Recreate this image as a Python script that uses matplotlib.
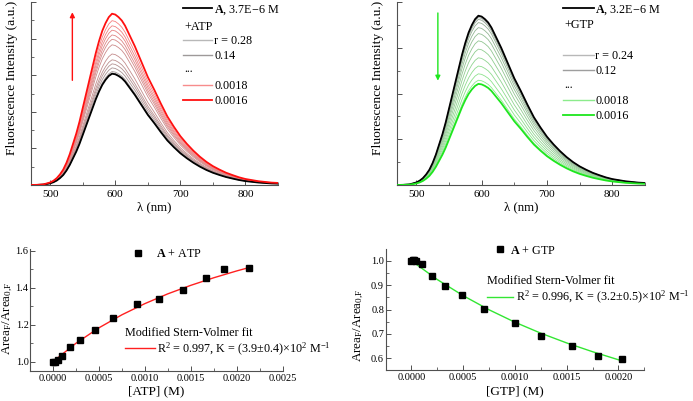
import numpy as np
import matplotlib
matplotlib.use("Agg")
import matplotlib.pyplot as plt
from matplotlib.lines import Line2D
from matplotlib.ticker import MultipleLocator, FormatStrFormatter

plt.rcParams['font.family'] = ['Liberation Serif', 'DejaVu Serif']
plt.rcParams['mathtext.fontset'] = 'custom'
plt.rcParams['mathtext.rm'] = 'Liberation Serif'
plt.rcParams['mathtext.it'] = 'Liberation Serif:italic'
plt.rcParams['mathtext.bf'] = 'Liberation Serif:bold'

# emission spectrum of A (normalised shape)
wl = [470, 480, 490, 500, 505, 510, 515, 520, 525, 530, 535, 540, 545, 550, 555,
      560, 565, 570, 575, 580, 585, 590, 595, 600, 605, 610, 615, 620, 625, 630,
      640, 650, 660, 670, 680, 690, 700, 710, 720, 730, 740, 750, 760, 770, 780,
      790, 800, 820, 840, 850]
shape = [0.0, 0.001, 0.004, 0.015, 0.025, 0.04, 0.062, 0.09, 0.13, 0.18, 0.24,
         0.30, 0.37, 0.45, 0.53, 0.61, 0.69, 0.77, 0.84, 0.90, 0.945, 0.98, 1.0,
         0.995, 0.98, 0.96, 0.93, 0.89, 0.85, 0.81, 0.72, 0.63, 0.555, 0.475, 0.40,
         0.34, 0.285, 0.24, 0.20, 0.165, 0.135, 0.11, 0.09, 0.072, 0.058, 0.045,
         0.035, 0.022, 0.014, 0.012]

# peak heights of each spectrum during titration (a.u.)
atp_peak = [3.04, 3.06, 3.10, 3.20, 3.31, 3.42, 3.58, 3.83, 3.98, 4.10, 4.23, 4.35, 4.49, 4.68]
gtp_peak = [3.70, 3.69, 3.66, 3.62, 3.55, 3.44, 3.31, 3.15, 2.97, 2.78, 2.60, 2.43, 2.29, 2.21]

# Stern-Volmer data
atp_conc = [0.0, 0.000018, 0.000051, 0.000098, 0.000188, 0.000297, 0.000453, 0.000652,
            0.000913, 0.001149, 0.00142, 0.001663, 0.001866, 0.002138]
atp_ratio = [1.0, 0.998, 1.009, 1.032, 1.077, 1.115, 1.171, 1.238, 1.312, 1.34,
             1.39, 1.45, 1.499, 1.508]
atp_fit_x = [0.0, 0.00025, 0.0005, 0.00075, 0.001, 0.00125, 0.0015, 0.00175, 0.002, 0.00214]
atp_fit_y = [1.0, 1.0995, 1.183, 1.2535, 1.314, 1.367, 1.413, 1.454, 1.491, 1.51]

gtp_conc = [0.0, 0.000016, 0.000026, 0.000049, 0.000105, 0.000203, 0.000327, 0.00049,
            0.000703, 0.000997, 0.001252, 0.001552, 0.001804, 0.002033]
gtp_ratio = [1.0, 1.005, 1.005, 0.999, 0.986, 0.939, 0.896, 0.858, 0.802, 0.743,
             0.693, 0.652, 0.611, 0.596]
gtp_fit_x = [0.0, 0.00025, 0.0005, 0.00075, 0.001, 0.00125, 0.0015, 0.00175, 0.002, 0.00203]
gtp_fit_y = [1.0, 0.923, 0.857, 0.799, 0.748, 0.703, 0.663, 0.627, 0.594, 0.59]

W, H = 693, 401
AX_COL = '#505050'
LFS = 8.7


def px_axes(l, r, t, b):
    return [l / W, (H - b) / H, (r - l) / W, (b - t) / H]


def style(ax, labelsize):
    for s in ['top', 'right']:
        ax.spines[s].set_visible(False)
    for s in ['left', 'bottom']:
        ax.spines[s].set_color(AX_COL)
        ax.spines[s].set_linewidth(0.8)
    ax.tick_params(which='both', direction='in', color=AX_COL, labelsize=labelsize)
    ax.tick_params(which='major', length=3.5, width=0.7)
    ax.tick_params(which='minor', length=2, width=0.6)


def blend(c0, c1, t):
    return tuple(a + (b - a) * t for a, b in zip(c0, c1))


def spectra(ax, peaks, end_col, mid_col, ymax, ytick):
    n = len(peaks)
    shp = np.array(shape)
    for i, pk in enumerate(peaks):
        if i == 0:
            c, lw, z = 'black', 1.3, 3
        elif i == n - 1:
            c, lw, z = end_col, 1.3, 3
        else:
            c, lw, z = blend((0.6, 0.6, 0.6), mid_col, (i - 1) / (n - 3)), 0.6, 2
        ax.plot(wl, shp * pk, color=c, lw=lw, zorder=z)
    ax.set_xlim(470, 850)
    ax.set_ylim(0, ymax)
    style(ax, 8)
    ax.xaxis.set_major_locator(MultipleLocator(100))
    ax.xaxis.set_minor_locator(MultipleLocator(50))
    ax.yaxis.set_major_locator(MultipleLocator(ytick))
    ax.yaxis.set_minor_locator(MultipleLocator(ytick / 2))
    ax.tick_params(axis='x', pad=3.5)
    ax.set_yticklabels([])
    ax.set_xlabel('λ (nm)', fontsize=9.2)
    ax.set_ylabel('Fluorescence Intensity (a.u.)', fontsize=9.7)
    ax.xaxis.set_label_coords(0.5, -0.087)


fig = plt.figure(figsize=(W / 100, H / 100), dpi=100)

# ---- top left: ATP spectra
ax1 = fig.add_axes(px_axes(30.7, 278, 2, 185))
spectra(ax1, atp_peak, '#ff1010', (0.97, 0.5, 0.5), 5.0, 1.0)
ax1.yaxis.set_label_coords(-0.053, 0.585)
ax1.annotate('', xy=(534, 4.72), xytext=(534, 2.86),
             arrowprops=dict(arrowstyle='-|>', color='#ff1010', lw=1.0,
                             mutation_scale=7, shrinkA=0, shrinkB=0))
h = [Line2D([], [], color='black', lw=1.3),
     Line2D([], [], color='none'),
     Line2D([], [], color=(0.72, 0.72, 0.72), lw=1.0),
     Line2D([], [], color=(0.62, 0.6, 0.6), lw=1.0),
     Line2D([], [], color='none'),
     Line2D([], [], color=(0.97, 0.55, 0.55), lw=1.0),
     Line2D([], [], color='#ff1010', lw=1.3)]
lab = [r'$\mathbf{A}$, 3.7E−6 M', ' ', 'r = 0.28', '0.14', ' ', '0.0018', '0.0016']
ax1.legend(h, lab, loc='upper left', bbox_to_anchor=(0.616, 0.993), frameon=False,
           fontsize=LFS, handlelength=2.4, handletextpad=0.17, labelspacing=0.25,
           borderpad=0, borderaxespad=0)
ax1.text(0.62, 0.866, '+ATP', transform=ax1.transAxes, fontsize=LFS, va='center')
ax1.text(0.62, 0.634, '...', transform=ax1.transAxes, fontsize=LFS, va='center')

# ---- top right: GTP spectra
ax2 = fig.add_axes(px_axes(396.7, 645, 2, 185))
spectra(ax2, gtp_peak, '#1ee61e', (0.55, 0.92, 0.55), 4.0, 1.0)
ax2.yaxis.set_label_coords(-0.05, 0.585)
ax2.annotate('', xy=(533, 2.28), xytext=(533, 3.76),
             arrowprops=dict(arrowstyle='-|>', color='#1ee61e', lw=1.0,
                             mutation_scale=7, shrinkA=0, shrinkB=0))
h = [Line2D([], [], color='black', lw=1.3),
     Line2D([], [], color='none'),
     Line2D([], [], color='none'),
     Line2D([], [], color=(0.72, 0.72, 0.72), lw=1.0),
     Line2D([], [], color=(0.62, 0.62, 0.62), lw=1.0),
     Line2D([], [], color='none'),
     Line2D([], [], color=(0.55, 0.92, 0.55), lw=1.0),
     Line2D([], [], color='#1ee61e', lw=1.3)]
lab = [r'$\mathbf{A}$, 3.2E−6 M', ' ', ' ', 'r = 0.24', '0.12', ' ', '0.0018', '0.0016']
ax2.legend(h, lab, loc='upper left', bbox_to_anchor=(0.671, 0.993), frameon=False,
           fontsize=LFS, handlelength=2.5, handletextpad=0.15, labelspacing=0.25,
           borderpad=0, borderaxespad=0)
ax2.text(0.675, 0.872, '+GTP', transform=ax2.transAxes, fontsize=LFS, va='center')
ax2.text(0.675, 0.545, '...', transform=ax2.transAxes, fontsize=LFS, va='center')


def sv_panel(ax, conc, ratio, fx, fy, col, name, xmax, ylim, ytick):
    pts, = ax.plot(conc, ratio, 's', color='black', ms=4, zorder=3)
    fit, = ax.plot(fx, fy, color=col, lw=1.0, zorder=2)
    ax.set_xlim(-0.00025, xmax)
    ax.set_ylim(*ylim)
    style(ax, 7.5)
    ax.xaxis.set_major_locator(MultipleLocator(0.0005))
    ax.xaxis.set_minor_locator(MultipleLocator(0.00025))
    ax.xaxis.set_major_formatter(FormatStrFormatter('%.4f'))
    ax.yaxis.set_major_locator(MultipleLocator(ytick))
    ax.yaxis.set_minor_locator(MultipleLocator(ytick / 2))
    ax.yaxis.set_major_formatter(FormatStrFormatter('%.1f'))
    ax.tick_params(axis='x', pad=2.5)
    ax.tick_params(axis='y', pad=1.0)
    ax.set_xlabel('[%s] (M)' % name, fontsize=9.5)
    ax.set_ylabel(r'Area$_\mathrm{F}$/Area$_\mathrm{0{,}F}$', fontsize=9.4)
    return pts, fit


# ---- bottom left: ATP Stern-Volmer
ax3 = fig.add_axes(px_axes(30, 282.7, 249.3, 370.7))
pts, fit = sv_panel(ax3, atp_conc, atp_ratio, atp_fit_x, atp_fit_y, '#ff2020', 'ATP',
                    0.0025, (0.951, 1.608), 0.2)
ax3.yaxis.set_label_coords(-0.06, 0.43)
ax3.xaxis.set_label_coords(0.5, -0.118)
lg = ax3.legend([pts], [r'$\mathbf{A}$ + ATP'], loc='center left',
                bbox_to_anchor=(0.404, 0.959), frameon=False, fontsize=LFS,
                handlelength=1.0, handletextpad=1.0, borderpad=0, borderaxespad=0)
ax3.add_artist(lg)
ax3.legend([fit], [r'R$^2$ = 0.997, K = (3.9±0.4)×10$^2$ M$^{-1}$'],
           title='Modified Stern-Volmer fit', title_fontsize=LFS, alignment='left',
           loc='upper left', bbox_to_anchor=(0.376, 0.361), frameon=False,
           fontsize=LFS, handlelength=2.5, handletextpad=0.17, labelspacing=0.15,
           borderpad=0, borderaxespad=0)

# ---- bottom right: GTP Stern-Volmer
ax4 = fig.add_axes(px_axes(385.5, 644.3, 249.3, 370))
pts, fit = sv_panel(ax4, gtp_conc, gtp_ratio, gtp_fit_x, gtp_fit_y, '#33e633', 'GTP',
                    0.00225, (0.552, 1.047), 0.1)
ax4.yaxis.set_label_coords(-0.075, 0.37)
ax4.xaxis.set_label_coords(0.5, -0.124)
lg = ax4.legend([pts], [r'$\mathbf{A}$ + GTP'], loc='center left',
                bbox_to_anchor=(0.419, 0.99), frameon=False, fontsize=LFS,
                handlelength=1.0, handletextpad=0.35, borderpad=0, borderaxespad=0)
ax4.add_artist(lg)
ax4.legend([fit], [r'R$^2$ = 0.996, K = (3.2±0.5)×10$^2$ M$^{-1}$'],
           title='Modified Stern-Volmer fit', title_fontsize=LFS, alignment='left',
           loc='upper left', bbox_to_anchor=(0.391, 0.785), frameon=False,
           fontsize=LFS, handlelength=2.2, handletextpad=0.25, labelspacing=0.15,
           borderpad=0, borderaxespad=0)

fig.savefig('out.png', dpi=100)
